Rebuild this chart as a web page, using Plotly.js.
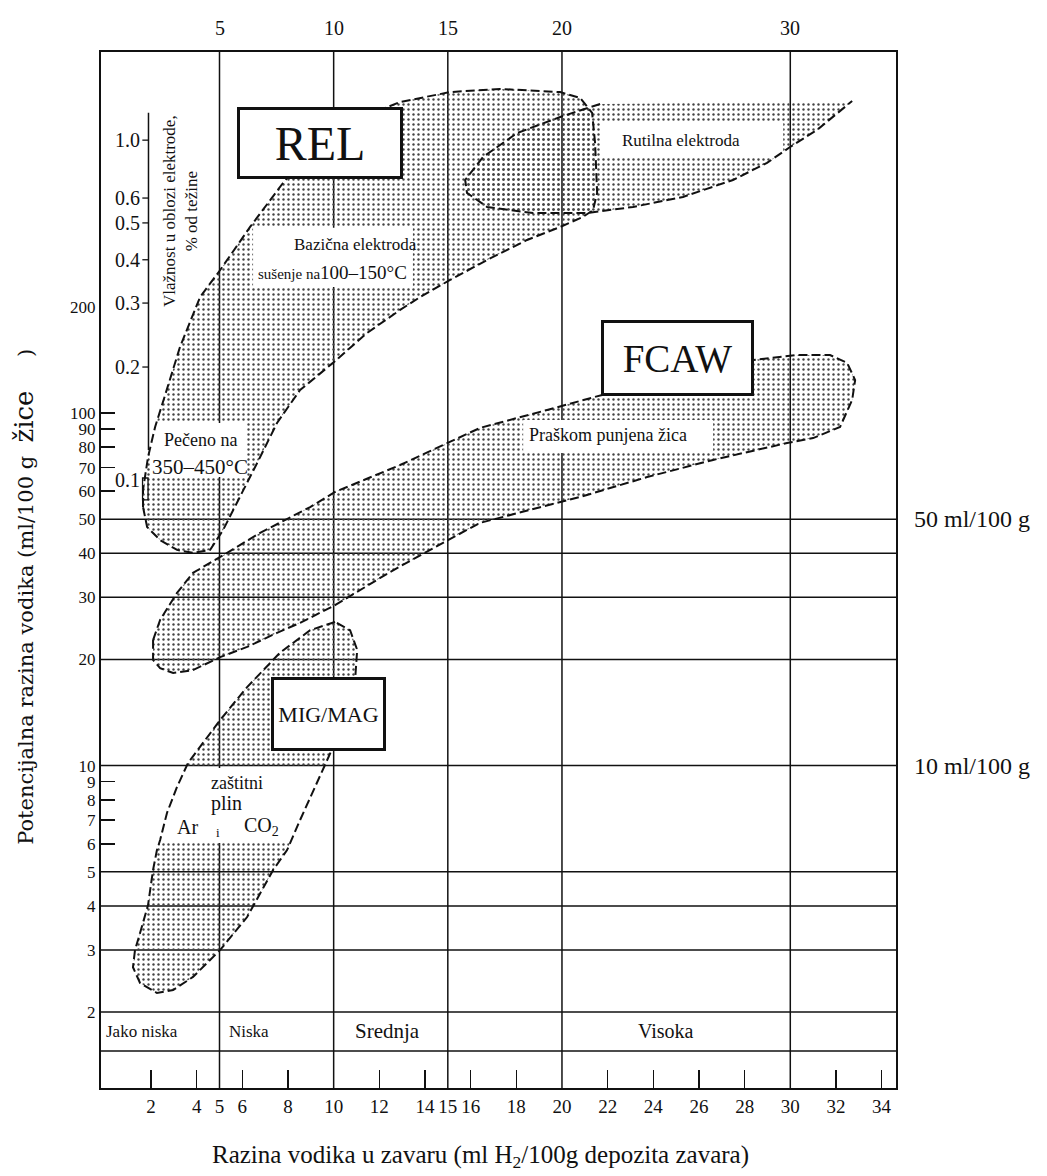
<!DOCTYPE html>
<html><head><meta charset="utf-8">
<script src="https://cdn.plot.ly/plotly-3.0.1.min.js"></script>
<style>html,body{margin:0;padding:0;background:#fff}#chart{width:1047px;height:1176px}</style>
</head><body><div id="chart"></div>
<script>
const FONT = 'Liberation Serif, Times New Roman, serif';

// ---- axis data ----
const xTickLabels = [2,4,5,6,8,10,12,14,15,16,18,20,22,24,26,28,30,32,34];
const xTickMarks  = [2,4,6,8,12,14,16,18,22,24,26,28,32,34];
const xGridLines  = [5,10,15,20,30];
const topLabels   = [5,10,15,20,30];
const yTickLabels = [2,3,4,5,6,7,8,9,10,20,30,40,50,60,70,80,90,100,200];
const yTickMarks  = [6,7,8,9,60,70,80,90,100];
const yGridLines  = [2,3,4,5,10,20,30,40,50];
const bandLine    = 1.55;
const bandNames   = ['Jako niska','Niska','Srednja','Visoka'];
const rightLabels = ['50 ml/100 g','10 ml/100 g'];
const rightAt     = [50,10];
const moistureLabels = ['1.0','0.6','0.5','0.4','0.3','0.2','0.1'];
const moistureAt     = [594,407,346,272,205,135,64.5];

// ---- region outlines (x: ml H2/100g weld, y: ml/100g consumable) ----
const relX = [1.65,1.65,1.87,2.18,2.62,3.27,4.15,5.03,6.34,7.78,9.41,11.16,12.91,15.1,17.29,19.92,20.8,21.32,21.45,21.54,21.36,20.92,19.92,18.47,16.72,15.1,13.79,12.91,11.46,9.97,8.53,7.52,6.78,6.21,5.59,5.16,4.59,3.84,3.14,2.40,1.83];
const relY = [54.1,60.5,75.0,91.3,112.5,153.9,213.3,254.4,337,449,594,687,762,813,830,813,782,710,583,421,376,360,337,309.5,271.6,238.4,213.3,196,168.6,138.7,116.2,93.7,75.0,63.3,53.1,46.6,40.9,40.1,40.9,43.6,47.5];

const rutX = [32.71,21.67,19.92,18.03,16.54,15.76,15.84,16.72,18.73,21.1,23.11,25.3,27.49,28.98,29.99,31.17];
const rutY = [767,752,691,622,532,458,421,384,369,369,384,410,458,512,568,635];

const fcX = [2.09,2.40,3.14,3.84,5.03,6.78,8.97,10.06,12.91,15.01,16.41,19.35,21.76,25.17,28.37,30.30,31.74,32.49,32.84,32.71,32.18,31.0,29.86,26.62,23.73,20.8,18.6,16.41,15.01,12.47,10.06,8.53,7.52,6.21,5.03,3.84,2.97,2.40,2.09];
const fcY = [22.7,25.9,30.9,35.2,39.05,45.7,54.1,59.7,71.2,82.2,90.7,102,112.5,126.5,141.3,146,146,138.7,124,108.9,91.3,84.9,82.2,73.6,65.8,57.8,53.1,48.8,43.6,35.4,28.5,25.4,23.8,21.7,20.3,18.66,18.3,18.9,19.93];

const migX = [10.06,8.97,7.65,6.21,5.03,4.15,3.62,3.14,2.70,2.40,2.26,2.09,1.87,1.52,1.30,1.21,1.52,2.26,2.97,3.84,5.03,6.21,7.35,7.96,8.53,9.62,10.50,10.94,11.03,10.72];
const migY = [25.55,24.2,20.9,16.7,13.47,11.29,10.17,8.70,7.34,6.15,5.76,5.06,4.02,3.35,3.00,2.68,2.418,2.265,2.31,2.515,3.00,3.72,5.06,5.76,7.01,10.04,13.47,17.5,21.3,24.2];

// white label backgrounds [x0,x1,y0,y1]
const maskX0 = [6.47,1.96,21.67,18.3,1.96];
const maskX1 = [13.47,6.21,29.69,26.62,9.7];
const maskY0 = [227.7,65.8,532,77.0,6.03];
const maskY1 = [335,93.7,665,95.5,9.85];

// ---- traces ----
const pattern = {shape:'.', fgcolor:'#444', bgcolor:'rgba(0,0,0,0)', size:5, solidity:0.18};
const traces = [];
function fillTrace(x,y){
  traces.push({x:x.concat([x[0]]), y:y.concat([y[0]]), mode:'lines', fill:'toself',
    fillcolor:'rgba(255,255,255,0)', fillpattern:pattern, line:{width:0,color:'rgba(0,0,0,0)'},
    hoverinfo:'skip', showlegend:false});
}
fillTrace(relX,relY); fillTrace(rutX,rutY); fillTrace(fcX,fcY); fillTrace(migX,migY);
for(let i=0;i<maskX0.length;i++){
  traces.push({x:[maskX0[i],maskX1[i],maskX1[i],maskX0[i],maskX0[i]],
    y:[maskY0[i],maskY0[i],maskY1[i],maskY1[i],maskY0[i]], mode:'lines', fill:'toself',
    fillcolor:'#fff', line:{width:0,color:'rgba(0,0,0,0)'}, hoverinfo:'skip', showlegend:false});
}
const dashLine = {color:'#111', width:2, dash:'9px,4px'};
function outline(x,y){
  traces.push({x:x, y:y, mode:'lines', line:dashLine, hoverinfo:'skip', showlegend:false});
}
outline(relX.concat([relX[0]]), relY.concat([relY[0]]));
outline(rutX.slice(1).concat([rutX[0]]), rutY.slice(1).concat([rutY[0]]));
outline(fcX.concat([fcX[0]]), fcY.concat([fcY[0]]));
outline(migX.concat([migX[0]]), migY.concat([migY[0]]));
traces.push({x:[10], y:[10], xaxis:'x2', yaxis:'y2', mode:'markers', marker:{opacity:0}, hoverinfo:'skip', showlegend:false});

// ---- shapes ----
const shapes = [];
const gl = {color:'#111', width:1.5};
xGridLines.forEach(v => shapes.push({type:'line', xref:'x', yref:'paper', x0:v, x1:v, y0:0, y1:1, line:gl, layer:'below'}));
yGridLines.concat([bandLine]).forEach(v => shapes.push({type:'line', xref:'paper', yref:'y', x0:0, x1:1, y0:v, y1:v, line:gl, layer:'below'}));
// moisture axis
shapes.push({type:'line', xref:'x', yref:'y', x0:1.89, x1:1.89, y0:78.5, y1:710, line:{color:'#111',width:1.5}, layer:'above'});
moistureAt.slice(0,6).forEach(v => shapes.push({type:'line', xref:'x', yref:'y', x0:1.62, x1:1.89, y0:v, y1:v, line:{color:'#111',width:1.3}, layer:'above'}));
shapes.push({type:'rect', xref:'x', yref:'y', x0:1.63, x1:1.87, y0:56.7, y1:65.4, line:{color:'#111',width:1.3}, layer:'above'});

// ---- annotations ----
const ann = [];
const L = Math.log10;
function txt(x,y,text,size,extra){
  ann.push(Object.assign({x:x, y:L(y), xref:'x', yref:'y', text:text, showarrow:false,
    xanchor:'center', yanchor:'middle', font:{family:FONT,size:size,color:'#111'}}, extra||{}));
}
topLabels.forEach(v => ann.push({x:v, xref:'x', y:1.023, yref:'paper', text:String(v), showarrow:false, xanchor:'center', yanchor:'middle', font:{family:FONT,size:20,color:'#111'}}));
rightLabels.forEach((t,i) => ann.push({x:1.02, xref:'paper', y:L(rightAt[i]), yref:'y', text:t, xanchor:'left', yanchor:'middle', showarrow:false, font:{family:FONT,size:24,color:'#111'}}));
moistureLabels.forEach((t,i) => txt(1.6, moistureAt[i], t, 20, {xanchor:'right'}));
// band labels
txt(-0.06, 1.767, bandNames[0], 17, {xanchor:'left'});
txt(5.33, 1.767, bandNames[1], 17, {xanchor:'left'});
txt(12.34, 1.767, bandNames[2], 21);
txt(24.56, 1.767, bandNames[3], 20);
// region text
txt(10.94, 300, 'Bazična elektroda', 17);
txt(9.97, 251, 'sušenje na<span style="font-size:19px">100–150°C</span>', 15);
txt(4.15, 83.8, 'Pečeno na', 18);
txt(4.15, 70.5, '350–450°C', 21);
txt(25.22, 591, 'Rutilna elektroda', 17);
txt(22.02, 86.6, 'Praškom punjena žica', 18);
txt(5.77, 8.93, 'zaštitni', 18);
txt(5.29, 7.83, 'plin', 20);
txt(3.58, 6.70, 'Ar', 20);
txt(4.94, 6.45, 'i', 13);
txt(6.82, 6.70, 'CO<sub>2</sub>', 20);
txt(3.27, 374, 'Vlažnost u oblozi elektrode,<br>% od težine', 17, {textangle:-90});
// process boxes
const box = {bgcolor:'#fff', bordercolor:'#111', borderwidth:3, borderpad:0};
txt(9.38, 583, 'REL', 48, Object.assign({width:160, height:66}, box));
txt(25.06, 143, 'FCAW', 39, Object.assign({width:147, height:70}, box));
txt(9.78, 14.0, 'MIG/MAG', 22, Object.assign({width:109, height:68}, box));
// axis titles
ann.push({x:-0.097, xref:'paper', y:0.474, yref:'paper', textangle:-90, showarrow:false, xanchor:'center', yanchor:'middle',
  text:'Potencijalna razina vodika (ml/100 g&nbsp;&nbsp;<span style="font-size:26px">žice</span>&nbsp;&nbsp;&nbsp;&nbsp;&nbsp;)',
  font:{family:'DejaVu Serif, serif',size:21,color:'#111'}});
ann.push({x:0.477, xref:'paper', y:-0.066, yref:'paper', showarrow:false, xanchor:'center', yanchor:'middle',
  text:'Razina vodika u zavaru (ml H<sub>2</sub>/100g depozita zavara)',
  font:{family:FONT,size:25,color:'#111'}});

const xr = [-0.19, 34.63], yr = [0.0856, 3.0238];
const layout = {
  width:1047, height:1176, margin:{l:101, r:151, t:52, b:88},
  paper_bgcolor:'#fff', plot_bgcolor:'#fff', showlegend:false,
  font:{family:FONT, color:'#111'},
  xaxis:{range:xr, tickmode:'array', tickvals:xTickLabels, ticktext:xTickLabels.map(String),
    ticks:'', showgrid:false, zeroline:false, showline:true, mirror:true, linecolor:'#111', linewidth:2,
    tickfont:{family:FONT,size:19,color:'#111'}, fixedrange:true},
  yaxis:{type:'log', range:yr, tickmode:'array', tickvals:yTickLabels, ticktext:yTickLabels.map(String),
    ticks:'', showgrid:false, zeroline:false, showline:true, mirror:true, linecolor:'#111', linewidth:2,
    tickfont:{family:FONT,size:17,color:'#111'}, fixedrange:true},
  xaxis2:{overlaying:'x', anchor:'y2', side:'bottom', range:xr, tickmode:'array', tickvals:xTickMarks,
    ticks:'inside', ticklen:18, tickwidth:1.5, tickcolor:'#111', showticklabels:false, showgrid:false, zeroline:false, showline:false},
  yaxis2:{overlaying:'y', anchor:'x2', side:'left', type:'log', range:yr, tickmode:'array', tickvals:yTickMarks,
    ticks:'inside', ticklen:14, tickwidth:1.5, tickcolor:'#111', showticklabels:false, showgrid:false, zeroline:false, showline:false},
  shapes:shapes, annotations:ann
};
Plotly.newPlot('chart', traces, layout, {staticPlot:true, displayModeBar:false});
</script></body></html>
